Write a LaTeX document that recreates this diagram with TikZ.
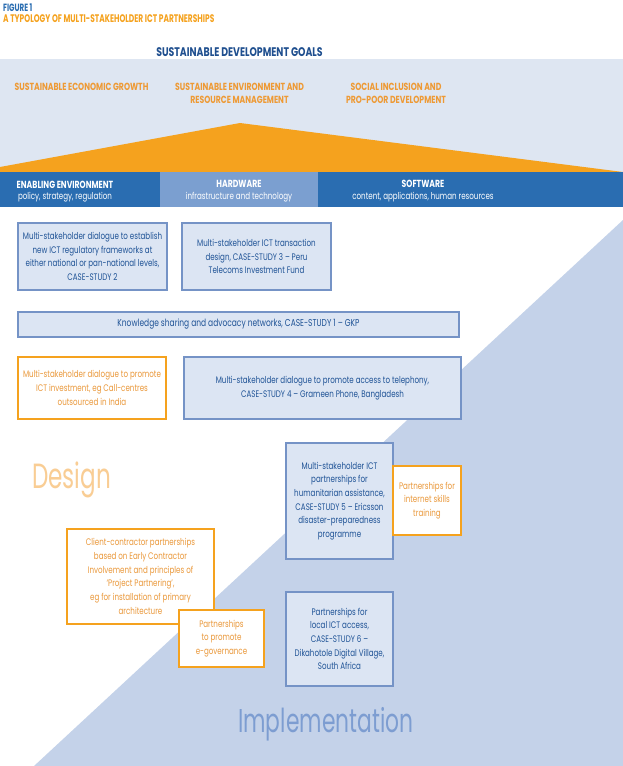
\documentclass[tikz,border=0pt]{standalone}
\usepackage{fontspec}
\setmainfont{Poppins}[FakeStretch=0.75]
\newfontfamily\condfont{Poppins}[FakeStretch=0.68]
\newfontfamily\bigfont{Poppins}[FakeStretch=0.66]
\definecolor{figblue}{HTML}{2A6DB1}
\definecolor{orng}{HTML}{F5A21E}
\definecolor{headorng}{HTML}{EE9A35}
\definecolor{band}{HTML}{DEE6F2}
\definecolor{barblue}{HTML}{2A6DB1}
\definecolor{barmid}{HTML}{7B9FD0}
\definecolor{diag}{HTML}{C4D2E9}
\definecolor{boxfill}{HTML}{DCE5F3}
\definecolor{boxline}{HTML}{7593C6}
\definecolor{txtblue}{HTML}{1F5396}
\definecolor{txtorng}{HTML}{EA983A}
\definecolor{designc}{HTML}{F9CD94}
\definecolor{implc}{HTML}{7D9DD1}
\definecolor{sdgblue}{HTML}{1F4F8F}
\tikzset{
  boxtext/.style={align=center, inner sep=0pt, font=\fontsize{9.5}{13.7}\selectfont},
  bluebox/.style={boxtext, draw=boxline, fill=boxfill, line width=1.3pt, text=txtblue},
  orangebox/.style={boxtext, draw=orng, fill=white, line width=1.3pt, text=txtorng},
  headtext/.style={anchor=base, inner sep=0pt, text=headorng, font=\bfseries\fontsize{10.3}{13}\selectfont},
  barhead/.style={anchor=base, inner sep=0pt, text=white, font=\bfseries\fontsize{10.3}{12}\selectfont},
  barsub/.style={anchor=base, inner sep=0pt, text=white, font=\fontsize{9.5}{12}\selectfont},
}
\begin{document}
\begin{tikzpicture}[x=1pt,y=-1pt]
\useasboundingbox (0,0) rectangle (623,766);
\fill[white] (0,0) rectangle (623,766);
% backgrounds
\fill[diag] (623,220) -- (623,766) -- (34,766) -- cycle;
\fill[band] (0,59) rectangle (623,172);
\fill[orng] (0,172) -- (0,167) -- (240,123) -- (623,172) -- cycle;
\fill[barblue] (0,172) rectangle (160,207);
\fill[barmid] (160,172) rectangle (318,207);
\fill[barblue] (318,172) rectangle (623,207);
% titles
\node[anchor=base west, inner sep=0pt, text=figblue, font=\condfont\bfseries\fontsize{10.5}{11}\selectfont] (fig) at (3,11) {FIGURE 1};
\node[anchor=base west, inner sep=0pt, text=orng, font=\condfont\bfseries\fontsize{11}{12}\selectfont] (typ) at (3,22) {A TYPOLOGY OF MULTI-STAKEHOLDER ICT PARTNERSHIPS};
\node[anchor=base, inner sep=0pt, text=sdgblue, font=\bfseries\fontsize{12.5}{14}\selectfont] (sdg) at (239.5,56) {SUSTAINABLE DEVELOPMENT GOALS};
% goals
\node[headtext] (g1) at (81.5,90) {SUSTAINABLE ECONOMIC GROWTH};
\node[headtext] (g2a) at (239.5,90) {SUSTAINABLE ENVIRONMENT AND};
\node[headtext] (g2b) at (239.5,103) {RESOURCE MANAGEMENT};
\node[headtext] (g3a) at (396,90) {SOCIAL INCLUSION AND};
\node[headtext] (g3b) at (396,103) {PRO-POOR DEVELOPMENT};
% bar
\node[barhead] (b1) at (65,188) {ENABLING ENVIRONMENT};
\node[barsub] (b1s) at (65,199) {policy, strategy, regulation};
\node[barhead] (b2) at (239,187) {HARDWARE};
\node[barsub] (b2s) at (239,199) {infrastructure and technology};
\node[barhead] (b3) at (423,187) {SOFTWARE};
\node[barsub] (b3s) at (423,199) {content, applications, human resources};
% big labels
\node[anchor=base west, inner sep=0pt, text=designc, font=\bigfont\fontsize{35}{40}\selectfont] (design) at (32,488) {Design};
\node[anchor=base west, inner sep=0pt, text=implc, font=\bigfont\fontsize{33}{38}\selectfont] (impl) at (238,732) {Implementation};
% boxes
\node[bluebox, minimum width=149pt, minimum height=67pt] (A) at (92.5,256.5) {Multi-stakeholder dialogue to establish\\new ICT regulatory frameworks at\\either national or pan-national levels,\\CASE-STUDY 2};
\node[bluebox, minimum width=149pt, minimum height=67pt] (B) at (256.5,256.5) {Multi-stakeholder ICT transaction\\design, CASE-STUDY 3 – Peru\\Telecoms Investment Fund};
\node[bluebox, minimum width=441pt, minimum height=25pt, font=\fontsize{10}{13.7}\selectfont] (C) at (238.5,324.5) {Knowledge sharing and advocacy networks, CASE-STUDY 1 – GKP};
\node[orangebox, minimum width=148pt, minimum height=62pt] (D) at (92,388) {Multi-stakeholder dialogue to promote\\ICT investment, eg Call-centres\\outsourced in India};
\node[bluebox, minimum width=277pt, minimum height=62pt] (E) at (322.5,388) {Multi-stakeholder dialogue to promote access to telephony,\\CASE-STUDY 4 – Grameen Phone, Bangladesh};
\node[bluebox, minimum width=107pt, minimum height=116pt] (F) at (339.5,501) {Multi-stakeholder ICT\\partnerships for\\humanitarian assistance,\\CASE-STUDY 5 – Ericsson\\disaster-preparedness\\programme};
\node[orangebox, minimum width=68pt, minimum height=69pt] (G) at (427,500.5) {Partnerships for\\internet skills\\training};
\node[orangebox, minimum width=147pt, minimum height=95pt] (H) at (140.5,576.5) {Client-contractor partnerships\\based on Early Contractor\\Involvement and principles of\\‘Project Partnering’,\\eg for installation of primary\\architecture};
\node[orangebox, minimum width=85pt, minimum height=57pt] (I) at (221.5,638.5) {Partnerships\\to promote\\e-governance};
\node[bluebox, minimum width=107pt, minimum height=94pt] (J) at (339.5,639) {Partnerships for\\local ICT access,\\CASE-STUDY 6 –\\Dikahotole Digital Village,\\South Africa};
\end{tikzpicture}
\end{document}
